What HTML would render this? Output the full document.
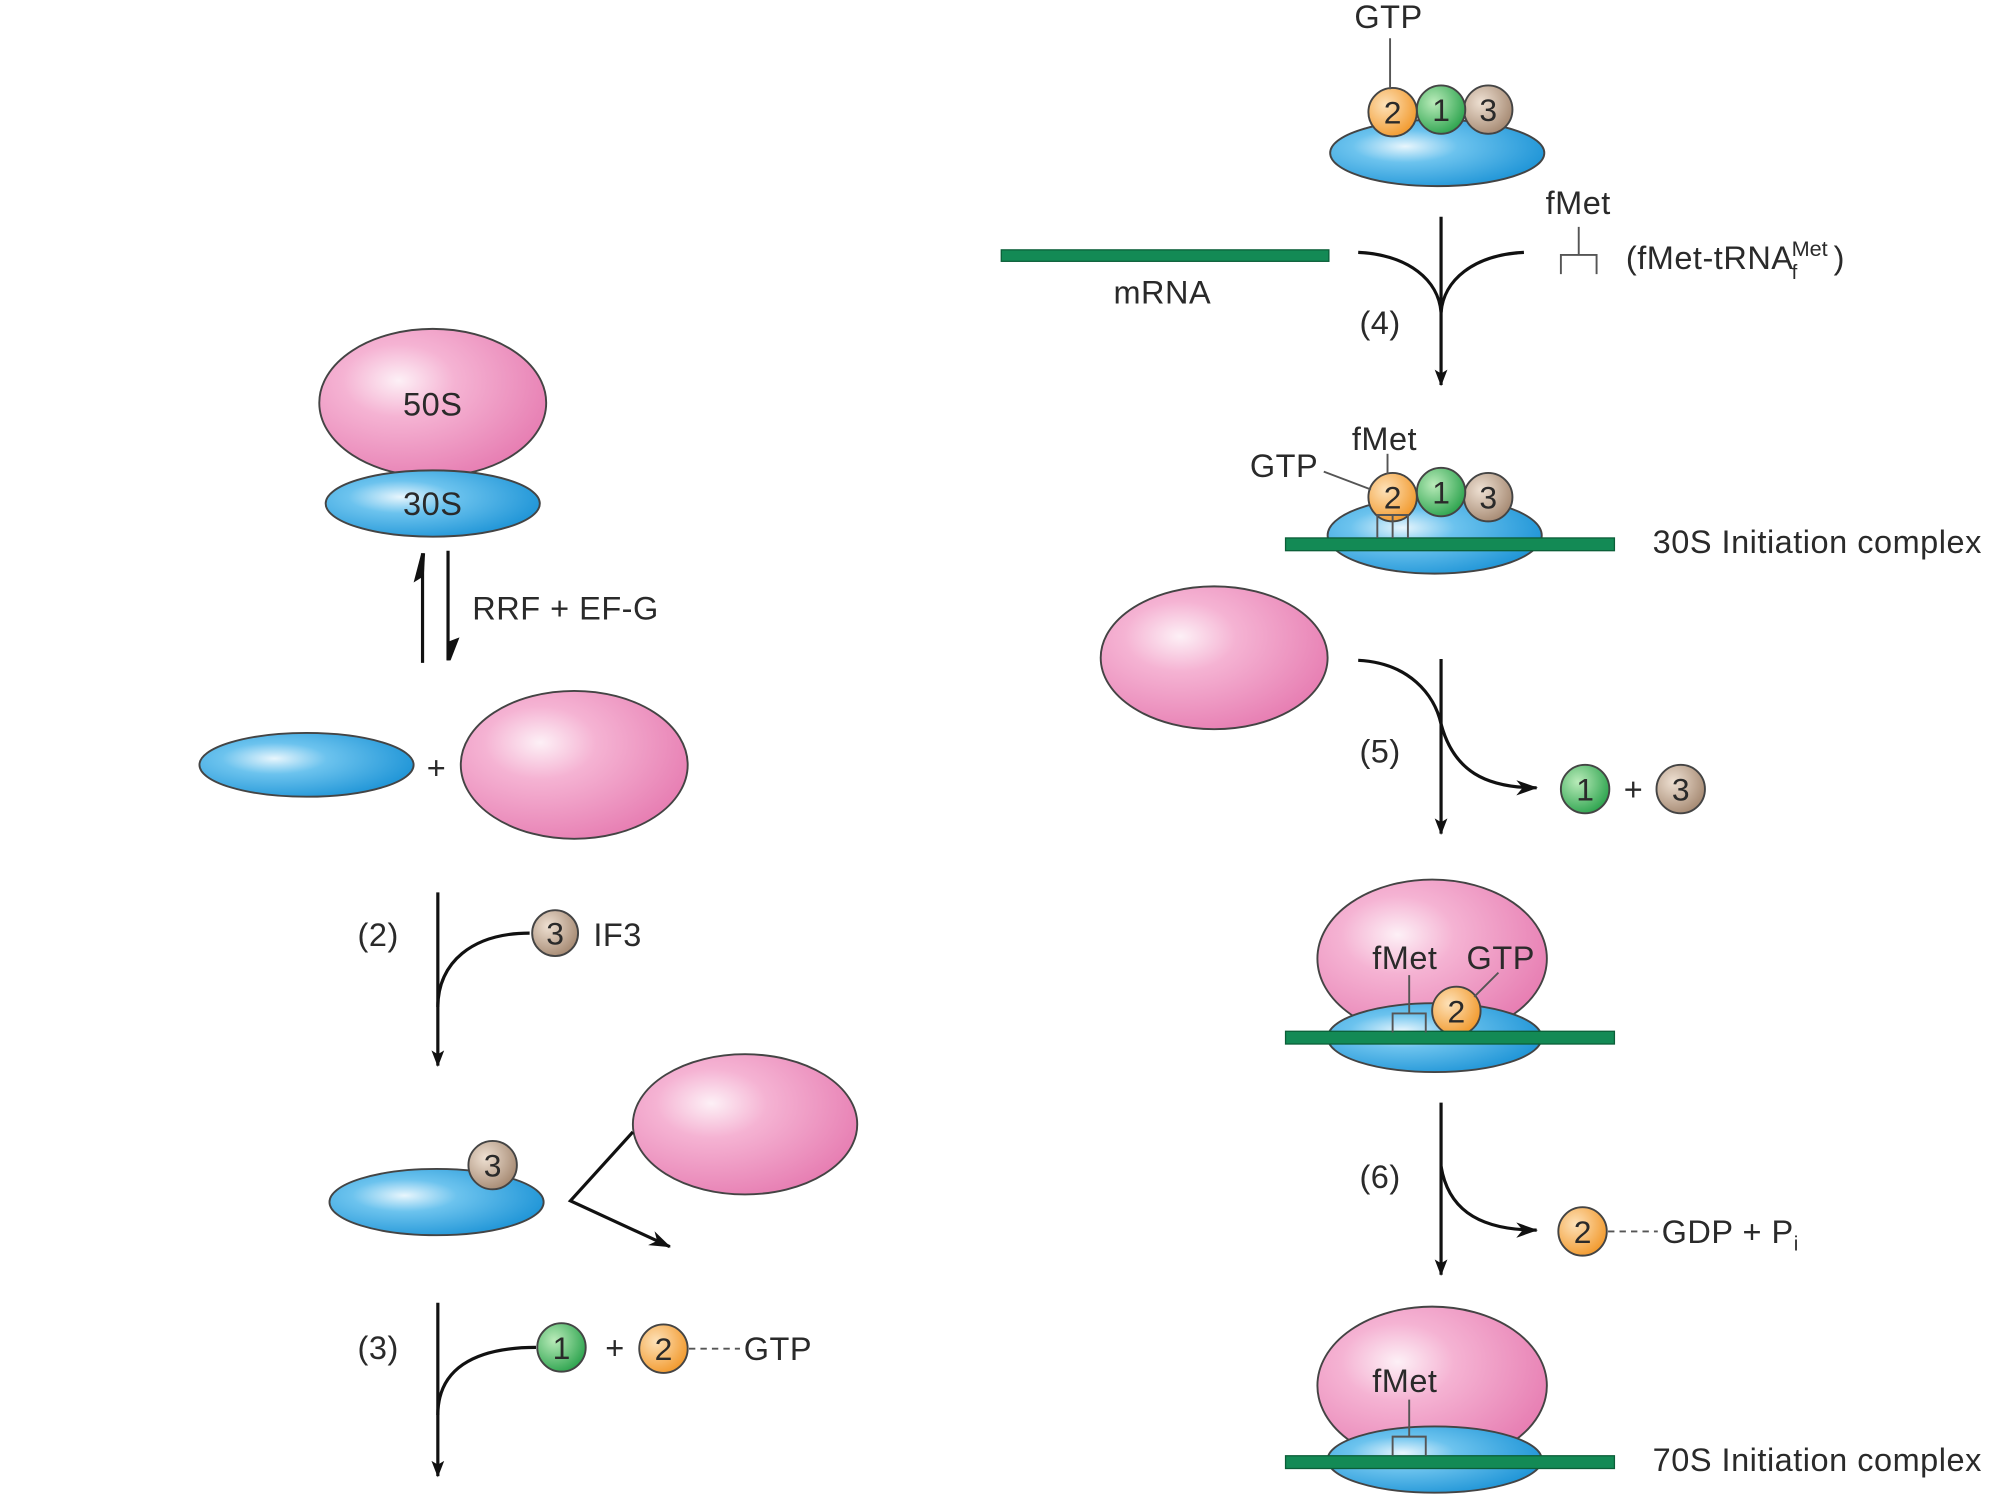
<!DOCTYPE html>
<html><head><meta charset="utf-8"><style>
html,body{margin:0;padding:0;background:#fff;}
svg{display:block;}
text{font-family:"Liberation Sans",Arial,sans-serif;fill:#2a2a2a;}
</style></head><body>
<svg width="2000" height="1494" viewBox="0 0 1568 1172" xmlns="http://www.w3.org/2000/svg">
<defs>
<radialGradient id="pk" cx="0.35" cy="0.35" r="0.7"><stop offset="0" stop-color="#fdf0f6"/><stop offset="0.35" stop-color="#f5b3d3"/><stop offset="1" stop-color="#e77fb3"/></radialGradient>
<radialGradient id="bl" cx="0.35" cy="0.4" r="0.7"><stop offset="0" stop-color="#e8f6fd"/><stop offset="0.35" stop-color="#6cc3ee"/><stop offset="1" stop-color="#1c93d6"/></radialGradient>
<radialGradient id="or" cx="0.35" cy="0.35" r="0.7"><stop offset="0" stop-color="#fde1b8"/><stop offset="1" stop-color="#f29a2e"/></radialGradient>
<radialGradient id="gr" cx="0.35" cy="0.35" r="0.7"><stop offset="0" stop-color="#b9ebb9"/><stop offset="1" stop-color="#2ea44f"/></radialGradient>
<radialGradient id="tn" cx="0.35" cy="0.35" r="0.7"><stop offset="0" stop-color="#eee0d2"/><stop offset="1" stop-color="#a68a73"/></radialGradient>
<marker id="ah" markerWidth="14" markerHeight="14" refX="12" refY="7" orient="auto" markerUnits="userSpaceOnUse"><path d="M0,2 L13,7 L0,12 L3,7 Z" fill="#111"/></marker>
<marker id="ah2" markerWidth="18" markerHeight="14" refX="16" refY="7" orient="auto" markerUnits="userSpaceOnUse"><path d="M0,1 L17,7 L0,13 L5,7 Z" fill="#111"/></marker>
</defs>
<g stroke="#444" stroke-width="1.5">
<ellipse cx="339" cy="316" rx="89" ry="58" fill="url(#pk)"/>
<ellipse cx="339" cy="395" rx="84" ry="26" fill="url(#bl)"/>
<ellipse cx="240" cy="600" rx="84" ry="25" fill="url(#bl)"/>
<ellipse cx="450" cy="600" rx="89" ry="58" fill="url(#pk)"/>
<ellipse cx="342" cy="943" rx="84" ry="26" fill="url(#bl)"/>
<circle cx="386" cy="914" r="19" fill="url(#tn)"/>
<ellipse cx="584" cy="882" rx="88" ry="55" fill="url(#pk)"/>
<circle cx="435" cy="732" r="18" fill="url(#tn)"/>
<circle cx="440" cy="1057" r="19" fill="url(#gr)"/>
<circle cx="520" cy="1058" r="19" fill="url(#or)"/>
<ellipse cx="1127" cy="120" rx="84" ry="26" fill="url(#bl)"/>
<circle cx="1167" cy="86" r="19" fill="url(#tn)"/>
<circle cx="1130" cy="86" r="19" fill="url(#gr)"/>
<circle cx="1092" cy="88" r="19" fill="url(#or)"/>
<ellipse cx="1125" cy="420" rx="84" ry="30" fill="url(#bl)"/>
<circle cx="1167" cy="390" r="19" fill="url(#tn)"/>
<circle cx="1130" cy="386" r="19" fill="url(#gr)"/>
<circle cx="1092" cy="390" r="19" fill="url(#or)"/>
<ellipse cx="952" cy="516" rx="89" ry="56" fill="url(#pk)"/>
<circle cx="1243" cy="619" r="19" fill="url(#gr)"/>
<circle cx="1318" cy="619" r="19" fill="url(#tn)"/>
<ellipse cx="1123" cy="752" rx="90" ry="62" fill="url(#pk)"/>
<ellipse cx="1125" cy="814" rx="84" ry="27" fill="url(#bl)"/>
<circle cx="1142" cy="793" r="19" fill="url(#or)"/>
<circle cx="1241" cy="966" r="19" fill="url(#or)"/>
<ellipse cx="1123" cy="1087" rx="90" ry="62" fill="url(#pk)"/>
<ellipse cx="1125" cy="1145" rx="84" ry="26" fill="url(#bl)"/>
</g>
<g fill="#138a55" stroke="#0b5e38" stroke-width="1">
<rect x="785" y="196" width="257" height="9"/>
<rect x="1008" y="422" width="258" height="10"/>
<rect x="1008" y="809" width="258" height="10"/>
<rect x="1008" y="1142" width="258" height="10"/>
</g>
<g fill="none" stroke="#555" stroke-width="1.5">
<path d="M1238,178 V200 M1224,215 V200 H1252 V215"/>
<path d="M1080,422 V404 H1104 V422 M1092,404 V422"/>
<path d="M1105,765 V795 M1092,810 V795 H1118 V810"/>
<path d="M1105,1098 V1127 M1092,1142 V1127 H1118 V1142"/>
<path d="M1090,30 V70"/>
<path d="M1038,370 L1075,384"/>
<path d="M1088,356 V372"/>
<path d="M1175,763 L1156,782"/>
</g>
<g fill="none" stroke="#111" stroke-width="2.5">
<path d="M331,520 V434"/>
<path d="M351,432 V518"/>
<path d="M343,700 V836" marker-end="url(#ah)"/>
<path d="M343,790 C343,755 370,732 415,732"/>
<path d="M343,1022 V1158" marker-end="url(#ah)"/>
<path d="M343,1110 C343,1075 370,1057 420,1057"/>
<path d="M496,888 L447,942 L525,978" marker-end="url(#ah2)"/>
<path d="M1130,170 V302" marker-end="url(#ah)"/>
<path d="M1065,198 C1105,200 1128,220 1130,245"/>
<path d="M1195,198 C1155,200 1132,220 1130,245"/>
<path d="M1130,517 V654" marker-end="url(#ah)"/>
<path d="M1065,518 C1105,520 1125,545 1130,568 C1140,605 1165,618 1205,618" marker-end="url(#ah2)"/>
<path d="M1130,865 V1000" marker-end="url(#ah)"/>
<path d="M1130,915 C1135,945 1155,965 1205,965" marker-end="url(#ah2)"/>
</g>
<path d="M330,434 L333,434 L332,452 L324,457 Z" fill="#111"/>
<path d="M350,518 L353,518 L360,500 L352,503 Z" fill="#111"/>
<g stroke="#555" stroke-width="1.5" stroke-dasharray="5,4">
<path d="M540,1058 H580"/><path d="M1261,966 H1300"/>
</g>
<g font-size="25" text-anchor="middle">
<text x="386" y="923">3</text><text x="435" y="741">3</text>
<text x="440" y="1066">1</text><text x="520" y="1067">2</text>
<text x="1092" y="97">2</text><text x="1130" y="95">1</text><text x="1167" y="95">3</text>
<text x="1092" y="399">2</text><text x="1130" y="395">1</text><text x="1167" y="399">3</text>
<text x="1243" y="628">1</text><text x="1318" y="628">3</text>
<text x="1142" y="802">2</text><text x="1241" y="975">2</text>
</g>
<g font-size="25.5" letter-spacing="0.4">
<text x="339" y="326" text-anchor="middle">50S</text>
<text x="339" y="404" text-anchor="middle">30S</text>
<text x="370" y="486">RRF + EF-G</text>
<text x="342" y="611" text-anchor="middle">+</text>
<text x="280" y="742">(2)</text>
<text x="465" y="742">IF3</text>
<text x="280" y="1066">(3)</text>
<text x="482" y="1066" text-anchor="middle">+</text>
<text x="583" y="1067">GTP</text>
<text x="1062" y="22">GTP</text>
<text x="873" y="238">mRNA</text>
<text x="1066" y="262">(4)</text>
<text x="1212" y="168">fMet</text>
<text x="1275" y="211">(fMet-tRNA</text>
<text x="1405" y="201" font-size="17" letter-spacing="0">Met</text>
<text x="1405" y="219" font-size="16" letter-spacing="0">f</text>
<text x="1438" y="211">)</text>
<text x="1060" y="353">fMet</text>
<text x="980" y="374">GTP</text>
<text x="1296" y="434">30S Initiation complex</text>
<text x="1066" y="598">(5)</text>
<text x="1281" y="628" text-anchor="middle">+</text>
<text x="1076" y="760">fMet</text>
<text x="1150" y="760">GTP</text>
<text x="1066" y="932">(6)</text>
<text x="1303" y="975">GDP + P<tspan font-size="16" dy="6">i</tspan></text>
<text x="1076" y="1092">fMet</text>
<text x="1296" y="1154">70S Initiation complex</text>
</g>
</svg>
</body></html>
